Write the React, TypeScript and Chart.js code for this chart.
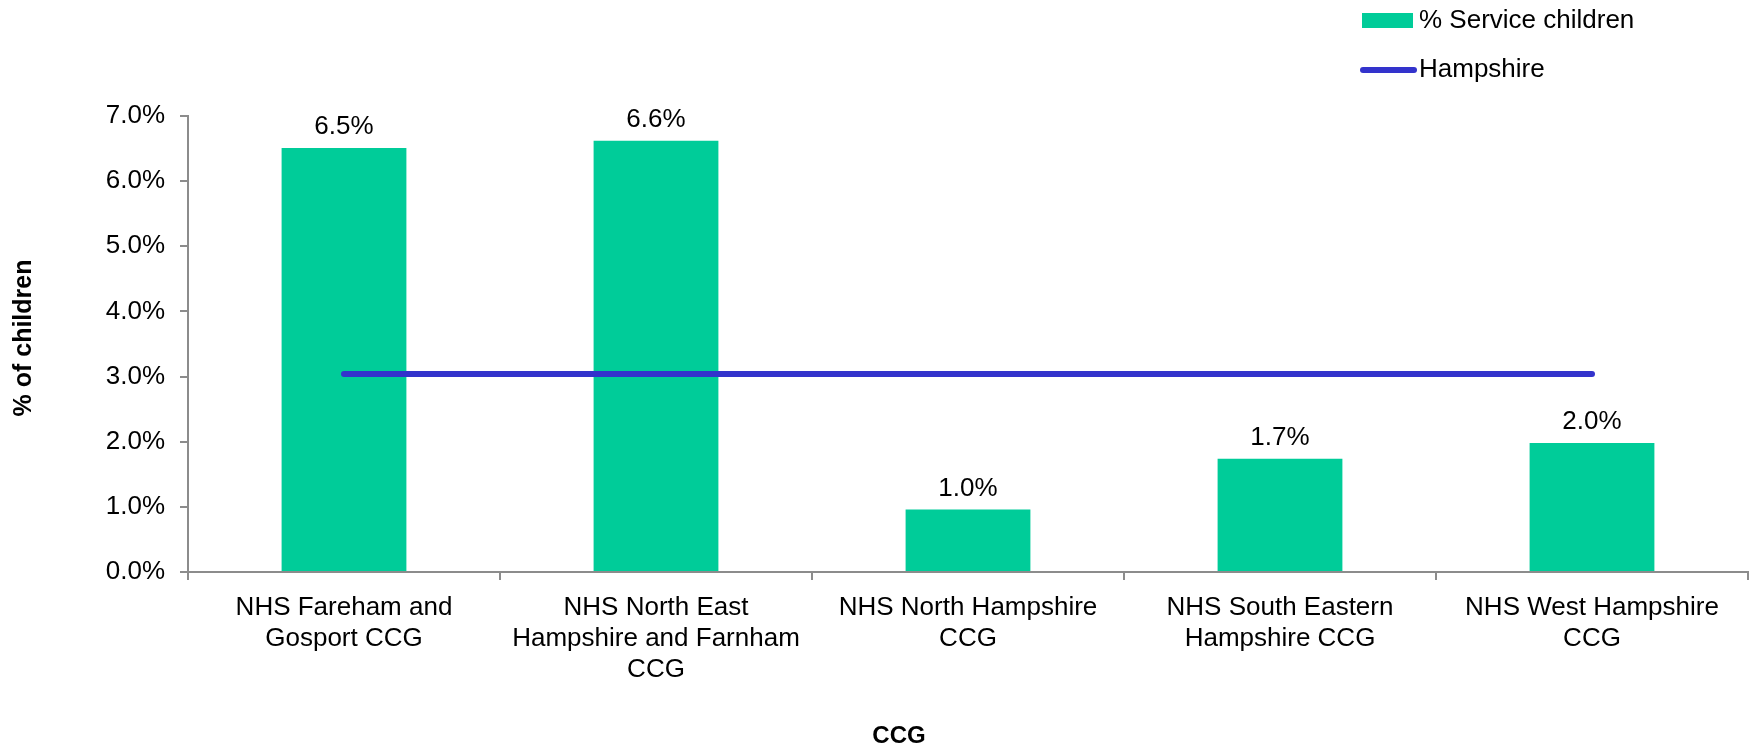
import React, { useEffect, useRef } from "react";
import { Chart, registerables } from "chart.js";

Chart.register(...registerables);

const categories: string[][] = [
  ["NHS Fareham and", "Gosport CCG"],
  ["NHS North East", "Hampshire and Farnham", "CCG"],
  ["NHS North Hampshire", "CCG"],
  ["NHS South Eastern", "Hampshire CCG"],
  ["NHS West Hampshire", "CCG"],
];
const serviceChildren: number[] = [6.51, 6.62, 0.96, 1.74, 1.98];
const hampshire: number[] = [3.04, 3.04, 3.04, 3.04, 3.04];
const yTicks: number[] = [0, 1, 2, 3, 4, 5, 6, 7];
const seriesNames = { bar: "% Service children", line: "Hampshire" };
const axisTitles = { x: "CCG", y: "% of children" };

const FONT = '"Liberation Sans", Arial, sans-serif';
const GREEN = "#00CC99";
const BLUE = "#3333CC";
const AXIS = "#8c8c8c";

export default function App() {
  const ref = useRef<HTMLCanvasElement | null>(null);

  useEffect(() => {
    if (!ref.current) return;

    const overlay = {
      id: "overlay",
      afterDatasetsDraw(chart: any) {
        const ctx = chart.ctx;
        const meta = chart.getDatasetMeta(0);
        ctx.save();
        ctx.fillStyle = "#000";
        ctx.font = `26px ${FONT}`;
        ctx.textAlign = "center";
        ctx.textBaseline = "middle";
        meta.data.forEach((el: any, i: number) => {
          ctx.fillText(serviceChildren[i].toFixed(1) + "%", el.x, el.y - 21);
        });
        ctx.restore();
      },
      afterDraw(chart: any) {
        const ctx = chart.ctx;
        ctx.save();
        // legend
        ctx.fillStyle = GREEN;
        ctx.fillRect(1362, 13, 51, 15);
        ctx.strokeStyle = BLUE;
        ctx.lineWidth = 6;
        ctx.lineCap = "round";
        ctx.beginPath();
        ctx.moveTo(1363, 70);
        ctx.lineTo(1414, 70);
        ctx.stroke();
        ctx.fillStyle = "#000";
        ctx.font = `26px ${FONT}`;
        ctx.textAlign = "left";
        ctx.textBaseline = "middle";
        ctx.fillText(seriesNames.bar, 1419, 21);
        ctx.fillText(seriesNames.line, 1419, 70);
        // axis titles
        ctx.font = `bold 24px ${FONT}`;
        ctx.textAlign = "center";
        ctx.fillText(axisTitles.x, 899, 736);
        ctx.font = `bold 25px ${FONT}`;
        ctx.translate(24, 338);
        ctx.rotate(-Math.PI / 2);
        ctx.fillText(axisTitles.y, 0, 0);
        ctx.restore();
      },
    };

    const chart = new Chart(ref.current, {
      type: "bar",
      data: {
        labels: categories,
        datasets: [
          {
            type: "bar",
            label: seriesNames.bar,
            data: serviceChildren,
            backgroundColor: GREEN,
            barPercentage: 0.4,
            categoryPercentage: 1.0,
            order: 1,
          },
          {
            type: "line",
            label: seriesNames.line,
            data: hampshire,
            borderColor: BLUE,
            backgroundColor: BLUE,
            borderWidth: 6,
            borderCapStyle: "round",
            pointRadius: 0,
            pointHoverRadius: 0,
            fill: false,
            order: 0,
          },
        ] as any,
      },
      options: {
        animation: false,
        responsive: true,
        maintainAspectRatio: false,
        devicePixelRatio: 1,
        layout: { padding: { top: 116, right: 9, left: 0, bottom: 0 } },
        plugins: {
          legend: { display: false },
          tooltip: { enabled: false },
          title: { display: false },
        },
        scales: {
          x: {
            type: "category",
            offset: true,
            grid: {
              display: true,
              drawOnChartArea: false,
              drawTicks: true,
              tickLength: 8,
              color: AXIS,
              lineWidth: 2,
              offset: true,
            },
            border: { display: true, color: AXIS, width: 2 },
            ticks: {
              color: "#000",
              font: { family: FONT, size: 26, lineHeight: 1.2 },
              padding: 12,
              maxRotation: 0,
              minRotation: 0,
              autoSkip: false,
            },
            afterFit(scale: any) {
              scale.height = 174;
            },
          },
          y: {
            min: 0,
            max: 7,
            afterBuildTicks(scale: any) {
              scale.ticks = yTicks.map((v) => ({ value: v }));
            },
            grid: {
              display: true,
              drawOnChartArea: false,
              drawTicks: true,
              tickLength: 8,
              color: AXIS,
              lineWidth: 2,
            },
            border: { display: true, color: AXIS, width: 2 },
            ticks: {
              color: "#000",
              font: { family: FONT, size: 26 },
              padding: 15,
              callback: (v: any) => Number(v).toFixed(1) + "%",
            },
            afterFit(scale: any) {
              scale.width = 188;
            },
          },
        },
      },
      plugins: [overlay],
    });

    return () => chart.destroy();
  }, []);

  return (
    <div
      style={{
        position: "fixed",
        left: 0,
        top: 0,
        width: "1757px",
        height: "746px",
        background: "#fff",
      }}
    >
      <canvas ref={ref} />
    </div>
  );
}
